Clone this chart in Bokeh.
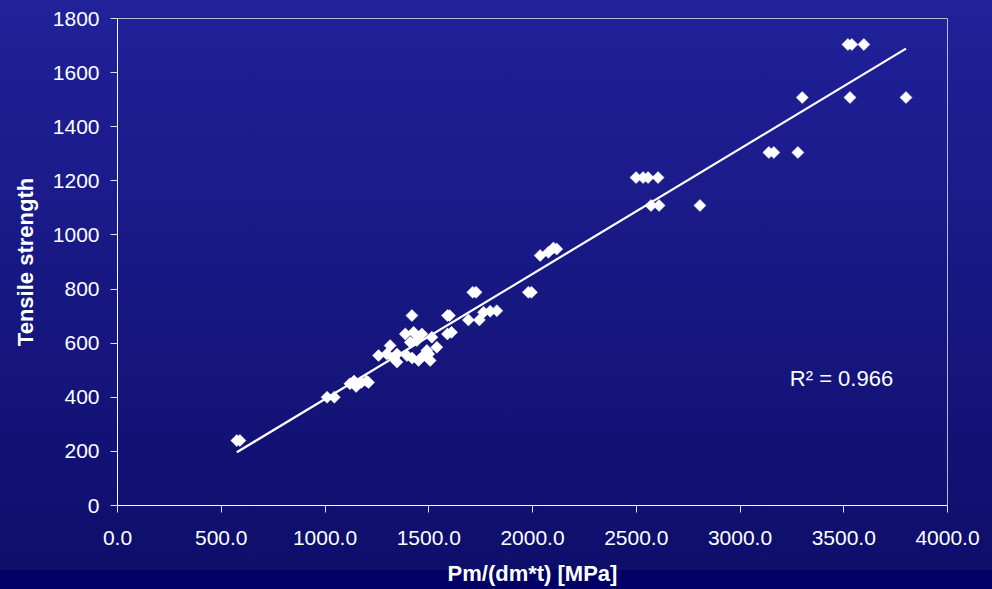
import numpy as np
from bokeh.plotting import figure
from bokeh.models import Range1d, FixedTicker, PrintfTickFormatter, Label, ColumnDataSource
from bokeh.embed import file_html
from bokeh.resources import INLINE

# ---- data ----
pm = [575, 590,
      1010, 1045,
      1120, 1140, 1150, 1175, 1200, 1210,
      1258, 1298, 1347, 1395, 1475, 1347, 1451, 1507, 1330, 1420, 1500,
      1314, 1411, 1539, 1491, 1443,
      1387, 1427, 1467, 1515, 1590, 1610,
      1419, 1590, 1600,
      1691, 1744, 1764, 1796, 1828,
      1712, 1728, 1980, 1995,
      2037, 2077, 2101, 2117,
      2499, 2533, 2557, 2605,
      2571, 2610, 2807,
      3139, 3163, 3279,
      3300, 3530, 3800,
      3520, 3539, 3597]
tensile = [240, 240,
           400, 400,
           450, 460, 440, 455, 460, 455,
           554, 560, 560, 554, 554, 530, 536, 536, 545, 545, 560,
           591, 603, 585, 573, 610,
           634, 640, 634, 622, 634, 640,
           702, 702, 702,
           686, 686, 714, 718, 720,
           788, 788, 788, 788,
           924, 936, 952, 948,
           1212, 1212, 1212, 1212,
           1109, 1109, 1109,
           1305, 1305, 1305,
           1508, 1508, 1508,
           1704, 1704, 1704]
x_ticks = [0, 500, 1000, 1500, 2000, 2500, 3000, 3500, 4000]
y_ticks = [0, 200, 400, 600, 800, 1000, 1200, 1400, 1600, 1800]
x_title = "Pm/(dm*t) [MPa]"
y_title = "Tensile strength"
r2_text = "R\u00b2 = 0.966"
r2_pos = (3240, 468)

FONT = "Liberation Sans"

p = figure(width=992, height=589, output_backend="svg", toolbar_location=None,
           x_range=Range1d(x_ticks[0], x_ticks[-1]), y_range=Range1d(y_ticks[0], y_ticks[-1]),
           min_border_left=117, min_border_right=45, min_border_top=18, min_border_bottom=84)
p.background_fill_color = None
p.border_fill_color = None
p.outline_line_color = "#b8b8d8"
p.outline_line_width = 1
p.grid.visible = False

# trend line (least squares on the data)
k, b = np.polyfit(pm, tensile, 1)
xs = np.array([min(pm), max(pm)])
p.line(xs, k * xs + b, line_color="white", line_width=2.2)

src = ColumnDataSource(dict(x=pm, y=tensile))
p.scatter("x", "y", source=src, marker="square", angle=np.pi / 4, size=8.5,
          fill_color="white", line_color="white", line_width=0.5)

p.add_layout(Label(x=r2_pos[0], y=r2_pos[1], text=r2_text, text_color="white",
                   text_font=FONT, text_font_size="22px", text_baseline="alphabetic"))

for ax in (p.xaxis[0], p.yaxis[0]):
    ax.axis_line_color = "white"
    ax.axis_line_width = 1
    ax.major_tick_line_color = "#e0e0f0"
    ax.major_tick_in = 0
    ax.major_tick_out = 7
    ax.minor_tick_line_color = None
    ax.major_label_text_color = "white"
    ax.major_label_text_font = FONT
    ax.major_label_text_font_size = "21px"
    ax.axis_label_text_color = "white"
    ax.axis_label_text_font = FONT
    ax.axis_label_text_font_size = "22px"
    ax.axis_label_text_font_style = "bold"

p.xaxis.ticker = FixedTicker(ticks=x_ticks)
p.yaxis.ticker = FixedTicker(ticks=y_ticks)
p.xaxis.formatter = PrintfTickFormatter(format="%.1f")
p.xaxis.major_label_standoff = 18
p.yaxis.major_label_standoff = 11
p.xaxis.axis_label = x_title
p.yaxis.axis_label = y_title
p.xaxis.axis_label_standoff = 13
p.yaxis.axis_label_standoff = 12

html = file_html(p, INLINE, title="Tensile strength")
css = ("<style>html{background:#000066 linear-gradient(to bottom,#21219a 0px,#0e0e6b 570px,"
       "#000066 570px,#000066 589px) no-repeat;min-height:589px;}body{background:transparent;}</style>")
html = html.replace("</head>", css + "</head>", 1)
open("out.html", "w").write(html)
